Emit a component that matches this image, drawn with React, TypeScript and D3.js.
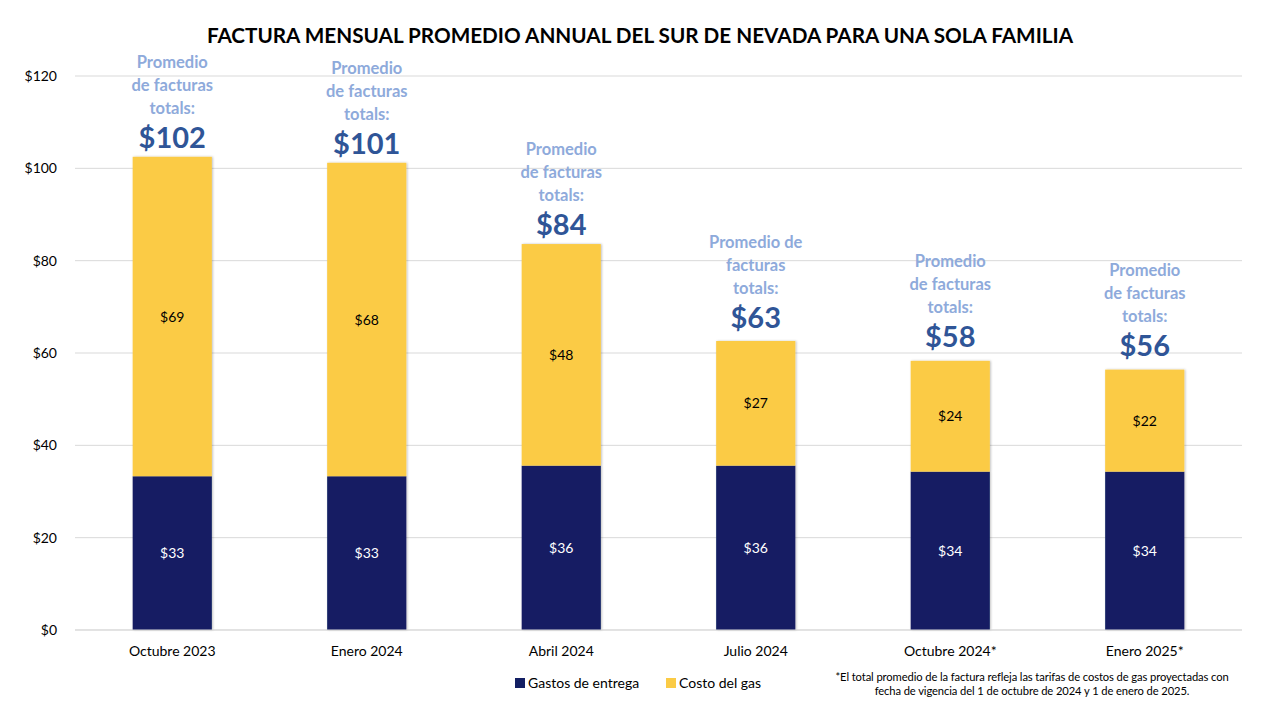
import React from "react";
import * as d3 from "d3";

const categories = ["Octubre 2023", "Enero 2024", "Abril 2024", "Julio 2024", "Octubre 2024*", "Enero 2025*"];
const delivery = [33.3, 33.3, 35.6, 35.6, 34.3, 34.3];
const gas = [69.2, 67.9, 48.0, 27.0, 24.0, 22.1];
const deliveryLabels = ["$33", "$33", "$36", "$36", "$34", "$34"];
const gasLabels = ["$69", "$68", "$48", "$27", "$24", "$22"];
const totalLabels = ["$102", "$101", "$84", "$63", "$58", "$56"];
const annotationLines = [
  ["Promedio", "de facturas", "totals:"],
  ["Promedio", "de facturas", "totals:"],
  ["Promedio", "de facturas", "totals:"],
  ["Promedio de", "facturas", "totals:"],
  ["Promedio", "de facturas", "totals:"],
  ["Promedio", "de facturas", "totals:"],
];
const annotationLift = [0, 0, 0, 4, 5, 5];
const yTicks = [0, 20, 40, 60, 80, 100, 120];
const seriesNames = ["Gastos de entrega", "Costo del gas"];
const title = "FACTURA MENSUAL PROMEDIO ANNUAL DEL SUR DE NEVADA PARA UNA SOLA FAMILIA";
const footnote = [
  "*El total promedio de la factura refleja las tarifas de costos de gas proyectadas con",
  "fecha de vigencia del 1 de octubre de 2024 y 1 de enero de 2025.",
];

const NAVY = "#131f63";
const YELLOW = "#fbcb45";
const FONT = "Lato, 'Open Sans', sans-serif";

export default function App() {
  const W = 1280, H = 720;
  const left = 75, right = 1242, top = 76, bottom = 630;
  const x = d3.scaleBand<string>().domain(categories).range([left, right]).paddingInner(0.593).paddingOuter(0.2965);
  const y = d3.scaleLinear().domain([0, 120]).range([bottom, top]);
  const bw = x.bandwidth();

  return (
    <svg width={W} height={H} style={{ display: "block", position: "absolute", left: 0, top: 0 }} fontFamily={FONT}>
      <defs>
        <filter id="sh" x="-20%" y="-5%" width="140%" height="110%">
          <feDropShadow dx="1" dy="0" stdDeviation="1.2" floodColor="#000" floodOpacity="0.25" />
        </filter>
      </defs>
      <rect width={W} height={H} fill="#fff" />
      <text x={640} y={43} textAnchor="middle" fontSize={20.7} fontWeight="bold" fill="#000">{title}</text>
      {yTicks.map((t) => (
        <g key={t}>
          <line x1={left} x2={right} y1={y(t)} y2={y(t)} stroke="#d9d9d9" strokeWidth={1} />
          <text x={57} y={y(t) + 5} textAnchor="end" fontSize={14} fill="#000">${t}</text>
        </g>
      ))}
      {categories.map((c, i) => {
        const x0 = x(c)!;
        const cx = x0 + bw / 2;
        const d = delivery[i], g = gas[i];
        const tot = d + g;
        const yt = y(tot) - annotationLift[i];
        return (
          <g key={c}>
            <g filter="url(#sh)">
              <rect x={x0} y={y(d)} width={bw} height={y(0) - y(d)} fill={NAVY} />
              <rect x={x0} y={y(tot)} width={bw} height={y(d) - y(tot)} fill={YELLOW} />
            </g>
            <text x={cx} y={(y(0) + y(d)) / 2 + 5} textAnchor="middle" fontSize={14} fill="#fff">{deliveryLabels[i]}</text>
            <text x={cx} y={(y(d) + y(tot)) / 2 + 5} textAnchor="middle" fontSize={14} fill="#000">{gasLabels[i]}</text>
            <text x={cx} y={yt - 9} textAnchor="middle" fontSize={29} fontWeight="bold" fill="#2f5597">{totalLabels[i]}</text>
            {annotationLines[i].map((ln, j) => (
              <text key={j} x={cx} y={yt - 43 - (2 - j) * 23} textAnchor="middle" fontSize={16.5} fontWeight="bold" fill="#8eaadb">{ln}</text>
            ))}
            <text x={cx} y={656} textAnchor="middle" fontSize={14} fill="#000">{c}</text>
          </g>
        );
      })}
      <line x1={left} x2={right} y1={y(0)} y2={y(0)} stroke="#d9d9d9" strokeWidth={1} />
      <g fontSize={14}>
        <rect x={515} y={678} width={10} height={10} fill={NAVY} />
        <text x={528} y={688} fill="#000">{seriesNames[0]}</text>
        <rect x={666} y={678} width={10} height={10} fill={YELLOW} />
        <text x={679} y={688} fill="#000">{seriesNames[1]}</text>
      </g>
      {footnote.map((f, i) => (
        <text key={i} x={1032} y={681 + i * 14} textAnchor="middle" fontSize={11.2} fill="#000" letterSpacing={-0.1}>{f}</text>
      ))}
    </svg>
  );
}
